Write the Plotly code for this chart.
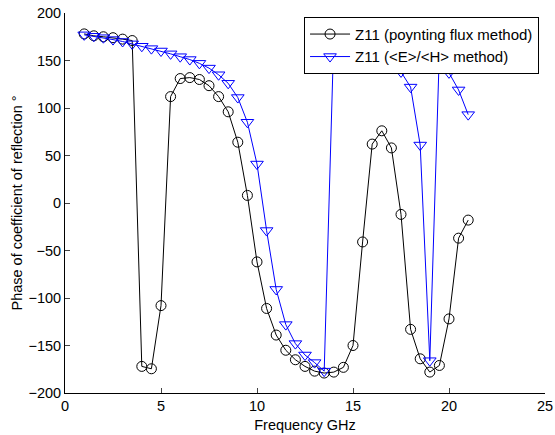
import plotly.graph_objects as go

freq = [1, 1.5, 2, 2.5, 3, 3.5, 4, 4.5, 5, 5.5, 6, 6.5, 7, 7.5, 8, 8.5, 9, 9.5, 10, 10.5,
        11, 11.5, 12, 12.5, 13, 13.5, 14, 14.5, 15, 15.5, 16, 16.5, 17, 17.5, 18, 18.5,
        19, 19.5, 20, 20.5, 21]

poynting = [178, 176, 175, 174, 172.5, 171, -172, -174.5, -108, 112, 131, 132, 130, 123.5,
            112, 96, 64, 8, -62, -111, -139, -155, -165, -172, -177, -179, -178, -173,
            -150, -41, 62, 76, 58, -12, -133, -164, -178, -171, -122, -37, -18]

eh_ratio = [177, 175.5, 174, 172, 170, 167.5, 165, 162.5, 160, 157, 154, 151, 147, 142,
            135, 126, 111, 85, 41, -29, -91, -128, -148, -160, -168, -177, 175, 172, 169,
            165, 160, 153, 146.5, 138, 122, 61, -166, 160, 137, 119, 93]

names = ["Z11 (poynting flux method)", "Z11 (<E>/<H> method)"]
x_ticks = [0, 5, 10, 15, 20, 25]
y_ticks = [-200, -150, -100, -50, 0, 50, 100, 150, 200]

font = "Liberation Sans, Arial, Helvetica, sans-serif"
fs = 14.5

fig = go.Figure()
fig.add_trace(go.Scatter(
    x=freq, y=poynting, name=names[0], mode="lines+markers",
    line=dict(color="black", width=1),
    marker=dict(symbol="circle-open", size=10, color="black", line=dict(width=1)),
))
fig.add_trace(go.Scatter(
    x=freq, y=eh_ratio, name=names[1], mode="lines+markers",
    line=dict(color="#0000ff", width=1),
    marker=dict(symbol="triangle-down-open", size=11, color="#0000ff", line=dict(width=1)),
))

fig.update_layout(
    width=555, height=435,
    margin=dict(l=65, r=10, t=13, b=42),
    paper_bgcolor="white", plot_bgcolor="white",
    font=dict(family=font, size=fs, color="black"),
    legend=dict(
        x=0.498, y=0.99, xanchor="left", yanchor="top",
        bgcolor="white", bordercolor="black", borderwidth=1,
        font=dict(family=font, size=15, color="black"),
        tracegroupgap=0, itemwidth=40,
    ),
    xaxis=dict(
        range=[0, 25], tickvals=x_ticks, ticks="inside", ticklen=5,
        showline=True, linecolor="black", linewidth=1, showgrid=False,
        zeroline=False, mirror=False, automargin=False,
        ticklabeloverflow="allow",
        title=dict(text="Frequency GHz", font=dict(size=fs), standoff=6),
        tickfont=dict(size=fs),
    ),
    yaxis=dict(
        range=[-200, 200], tickvals=y_ticks, ticks="inside", ticklen=5,
        showline=True, linecolor="black", linewidth=1, showgrid=False,
        zeroline=False, mirror=False, automargin=False,
        ticklabeloverflow="allow",
        title=dict(text="Phase of coefficient of reflection °", font=dict(size=fs), standoff=2),
        tickfont=dict(size=fs),
    ),
)

fig.write_html("out.html", config={"displayModeBar": False},
               post_script="document.body.style.margin='0px';")
